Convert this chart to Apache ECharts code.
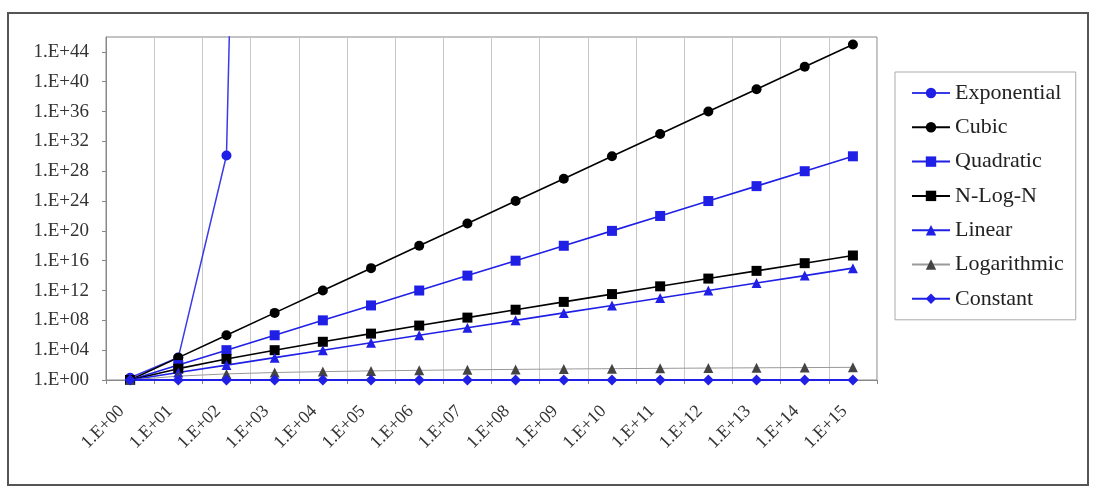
<!DOCTYPE html>
<html>
<head>
<meta charset="utf-8">
<script src="https://cdn.jsdelivr.net/npm/echarts@6/dist/echarts.min.js"></script>
<style>
  body{margin:0;background:#fff}
  #chart{width:1106px;height:500px}
</style>
</head>
<body>
<div id="chart"></div>
<script>
// n values on the x axis
const categories = ['1.E+00','1.E+01','1.E+02','1.E+03','1.E+04','1.E+05','1.E+06','1.E+07',
  '1.E+08','1.E+09','1.E+10','1.E+11','1.E+12','1.E+13','1.E+14','1.E+15']

// values (log scale)
const exponential = [2, 1024, 1.27e30, 1.07e301, null, null, null, null, null, null, null, null, null, null, null, null]
const cubic = [1, 1e3, 1e6, 1e9, 1e12, 1e15, 1e18, 1e21, 1e24, 1e27, 1e30, 1e33, 1e36, 1e39, 1e42, 1e45]
const quadratic = [1, 1e2, 1e4, 1e6, 1e8, 1e10, 1e12, 1e14, 1e16, 1e18, 1e20, 1e22, 1e24, 1e26, 1e28, 1e30]
const nLogN = [1, 33.2, 664, 9966, 1.33e5, 1.66e6, 1.99e7, 2.33e8, 2.66e9, 2.99e10, 3.32e11, 3.65e12, 3.99e13, 4.32e14, 4.65e15, 4.98e16]
const linear = [1, 1e1, 1e2, 1e3, 1e4, 1e5, 1e6, 1e7, 1e8, 1e9, 1e10, 1e11, 1e12, 1e13, 1e14, 1e15]
const logarithmic = [1, 3.3, 6.6, 10, 13.3, 16.6, 19.9, 23.3, 26.6, 29.9, 33.2, 36.5, 39.9, 43.2, 46.5, 49.8]
const constant = [1, 1, 1, 1, 1, 1, 1, 1, 1, 1, 1, 1, 1, 1, 1, 1]

const blue = '#1f1fe6'
const serif = 'Liberation Serif'

const mk = (name, data, color, symbol, lineColor, lineWidth) => ({
  name: name,
  type: 'line',
  data: data,
  symbol: symbol,
  symbolSize: symbol === 'diamond' ? 11 : 10,
  clip: true,
  connectNulls: false,
  itemStyle: {color: color},
  lineStyle: {color: lineColor || color, width: lineWidth || 1.6},
  emphasis: {disabled: true}
})

const chart = echarts.init(document.getElementById('chart'))
chart.setOption({
  animation: false,
  backgroundColor: '#fff',
  graphic: [{
    type: 'rect',
    shape: {x: 8, y: 13, width: 1080, height: 472},
    style: {fill: 'none', stroke: '#555', lineWidth: 2},
    silent: true
  }],
  grid: {
    left: 106, top: 37, width: 771, height: 343,
    show: true, borderColor: '#888', borderWidth: 1
  },
  legend: {
    orient: 'vertical',
    left: 895, top: 72,
    padding: [10, 12, 10, 16],
    borderColor: '#aaa', borderWidth: 1,
    itemWidth: 38, itemHeight: 13,
    itemGap: 12.3,
    textStyle: {fontFamily: serif, fontSize: 22, color: '#222'},
    data: ['Exponential','Cubic','Quadratic','N-Log-N','Linear','Logarithmic','Constant']
  },
  xAxis: {
    type: 'category',
    data: categories,
    boundaryGap: true,
    axisLine: {lineStyle: {color: '#888'}},
    axisTick: {show: true, length: 4, lineStyle: {color: '#888'}},
    axisLabel: {rotate: 45, interval: 0, fontFamily: serif, fontSize: 18, color: '#333',
      margin: 20, padding: [0, 12, 0, 0]},
    splitLine: {show: true, lineStyle: {color: '#c8c8c8', width: 1}}
  },
  yAxis: {
    type: 'log',
    logBase: 10,
    min: 1,
    max: 1e46,
    interval: 4,
    axisLine: {show: true, lineStyle: {color: '#888'}},
    axisTick: {show: true, length: 4, inside: false, lineStyle: {color: '#888'}},
    splitLine: {show: false},
    axisLabel: {
      showMaxLabel: false,
      fontFamily: serif, fontSize: 19, color: '#333', margin: 17,
      formatter: v => {
        const e = Math.round(Math.log10(v))
        return '1.E+' + (e < 10 ? '0' + e : e)
      }
    }
  },
  series: [
    mk('Exponential', exponential, blue, 'circle', '#3a3ae8', 1.5),
    mk('Cubic', cubic, '#000', 'circle'),
    mk('Quadratic', quadratic, blue, 'rect'),
    mk('N-Log-N', nLogN, '#000', 'rect'),
    mk('Linear', linear, blue, 'triangle'),
    mk('Logarithmic', logarithmic, '#444', 'triangle', '#999', 1),
    mk('Constant', constant, blue, 'diamond', blue, 2)
  ]
})
</script>
</body>
</html>
